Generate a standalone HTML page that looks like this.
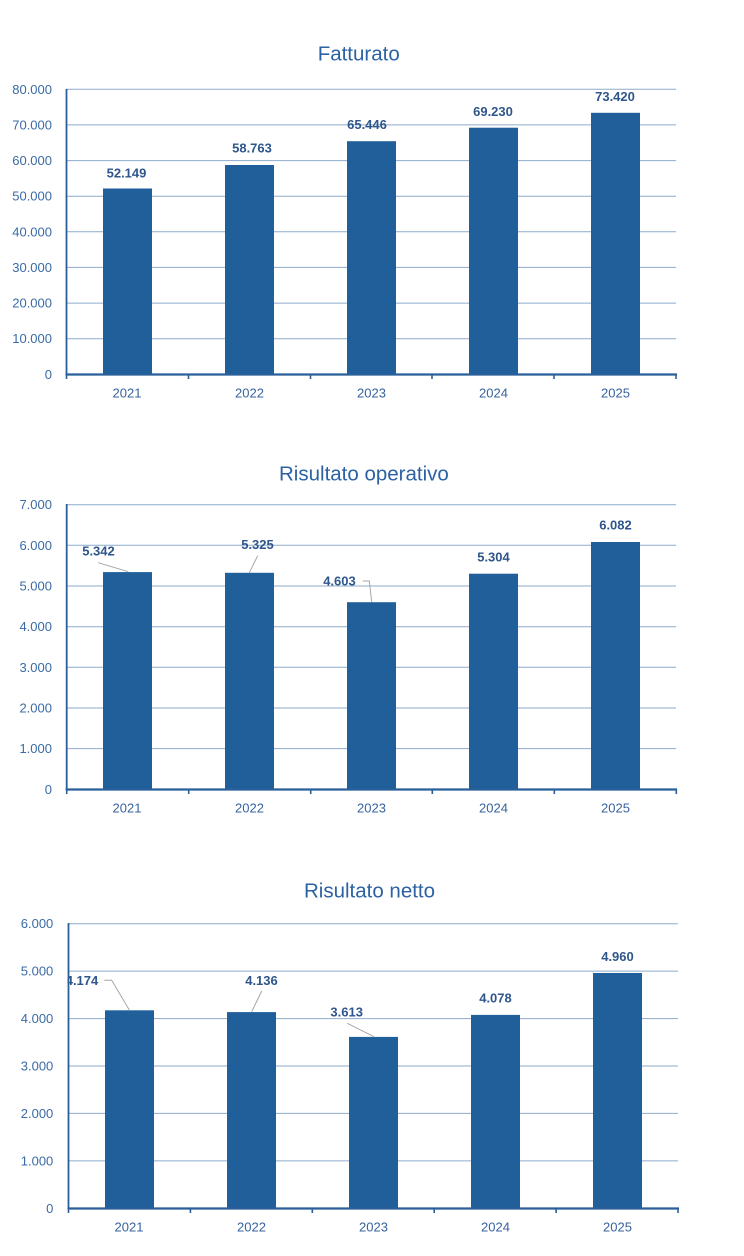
<!DOCTYPE html>
<html>
<head>
<meta charset="utf-8">
<style>
html,body{margin:0;padding:0;background:#fff;}
svg{display:block;}
text{font-family:"Liberation Sans",Arial,sans-serif;}
.t{font-size:20.5px;fill:#2C62A3;}
.yl{font-size:13px;fill:#3A6BA6;text-anchor:end;}
.xl{font-size:13px;fill:#37639E;text-anchor:middle;}
.dl{font-size:13px;font-weight:bold;fill:#2F568C;text-anchor:middle;}
.g{stroke:#8EABCB;stroke-width:1;}
.ax{stroke:#2A5F9A;}
.b{fill:#215F9A;}
.ld{stroke:#A6A6A6;stroke-width:1;fill:none;}
</style>
</head>
<body>
<svg width="744" height="1256" viewBox="0 0 744 1256" xmlns="http://www.w3.org/2000/svg">
<defs>
<clipPath id="c3"><rect x="67.5" y="900" width="680" height="340"/></clipPath>
</defs>

<!-- ===== Chart 1: Fatturato ===== -->
<text class="t" x="317.7" y="60.7">Fatturato</text>
<g>
<line class="g" x1="66" y1="338.7" x2="676" y2="338.7"/>
<line class="g" x1="66" y1="303.1" x2="676" y2="303.1"/>
<line class="g" x1="66" y1="267.4" x2="676" y2="267.4"/>
<line class="g" x1="66" y1="231.8" x2="676" y2="231.8"/>
<line class="g" x1="66" y1="196.2" x2="676" y2="196.2"/>
<line class="g" x1="66" y1="160.6" x2="676" y2="160.6"/>
<line class="g" x1="66" y1="124.9" x2="676" y2="124.9"/>
<line class="g" x1="66" y1="89.3" x2="676" y2="89.3"/>
</g>
<text class="yl" x="52" y="379">0</text>
<text class="yl" x="52" y="343.2">10.000</text>
<text class="yl" x="52" y="307.6">20.000</text>
<text class="yl" x="52" y="271.9">30.000</text>
<text class="yl" x="52" y="236.3">40.000</text>
<text class="yl" x="52" y="200.7">50.000</text>
<text class="yl" x="52" y="165.1">60.000</text>
<text class="yl" x="52" y="129.4">70.000</text>
<text class="yl" x="52" y="93.8">80.000</text>
<rect class="b" x="103" y="188.5" width="49" height="185.8"/>
<rect class="b" x="225" y="165.0" width="49" height="209.3"/>
<rect class="b" x="347" y="141.2" width="49" height="233.1"/>
<rect class="b" x="469" y="127.7" width="49" height="246.6"/>
<rect class="b" x="591" y="112.8" width="49" height="261.5"/>
<line class="ax" x1="66.5" y1="89" x2="66.5" y2="375" stroke-width="1.8"/>
<line class="ax" x1="65.5" y1="374.5" x2="677" y2="374.5" stroke-width="2.2"/>
<g class="ax" stroke-width="1.6">
<line x1="66.5" y1="374" x2="66.5" y2="379"/>
<line x1="188.5" y1="374" x2="188.5" y2="379"/>
<line x1="310.5" y1="374" x2="310.5" y2="379"/>
<line x1="432" y1="374" x2="432" y2="379"/>
<line x1="554" y1="374" x2="554" y2="379"/>
<line x1="676" y1="374" x2="676" y2="379"/>
</g>
<text class="xl" x="127" y="397.7">2021</text>
<text class="xl" x="249.5" y="397.7">2022</text>
<text class="xl" x="371.5" y="397.7">2023</text>
<text class="xl" x="493.5" y="397.7">2024</text>
<text class="xl" x="615.5" y="397.7">2025</text>
<text class="dl" x="126.5" y="177.7">52.149</text>
<text class="dl" x="252" y="152.7">58.763</text>
<text class="dl" x="367" y="129">65.446</text>
<text class="dl" x="493" y="116">69.230</text>
<text class="dl" x="615" y="101">73.420</text>

<!-- ===== Chart 2: Risultato operativo ===== -->
<text class="t" x="279" y="480.7">Risultato operativo</text>
<g>
<line class="g" x1="66" y1="748.6" x2="676" y2="748.6"/>
<line class="g" x1="66" y1="708.0" x2="676" y2="708.0"/>
<line class="g" x1="66" y1="667.3" x2="676" y2="667.3"/>
<line class="g" x1="66" y1="626.7" x2="676" y2="626.7"/>
<line class="g" x1="66" y1="586.0" x2="676" y2="586.0"/>
<line class="g" x1="66" y1="545.3" x2="676" y2="545.3"/>
<line class="g" x1="66" y1="504.7" x2="676" y2="504.7"/>
</g>
<text class="yl" x="52" y="793.8">0</text>
<text class="yl" x="52" y="753.1">1.000</text>
<text class="yl" x="52" y="712.5">2.000</text>
<text class="yl" x="52" y="671.8">3.000</text>
<text class="yl" x="52" y="631.2">4.000</text>
<text class="yl" x="52" y="590.5">5.000</text>
<text class="yl" x="52" y="549.8">6.000</text>
<text class="yl" x="52" y="509.2">7.000</text>
<rect class="b" x="103" y="572.1" width="49" height="217.2"/>
<rect class="b" x="225" y="572.8" width="49" height="216.5"/>
<rect class="b" x="347" y="602.2" width="49" height="187.1"/>
<rect class="b" x="469" y="573.7" width="49" height="215.6"/>
<rect class="b" x="591" y="542.0" width="49" height="247.3"/>
<line class="ax" x1="66.7" y1="504" x2="66.7" y2="790" stroke-width="1.8"/>
<line class="ax" x1="65.7" y1="789.5" x2="677" y2="789.5" stroke-width="2.2"/>
<g class="ax" stroke-width="1.6">
<line x1="66.7" y1="789" x2="66.7" y2="794"/>
<line x1="188.7" y1="789" x2="188.7" y2="794"/>
<line x1="310.7" y1="789" x2="310.7" y2="794"/>
<line x1="432.3" y1="789" x2="432.3" y2="794"/>
<line x1="554.3" y1="789" x2="554.3" y2="794"/>
<line x1="676.3" y1="789" x2="676.3" y2="794"/>
</g>
<text class="xl" x="127" y="812.7">2021</text>
<text class="xl" x="249.5" y="812.7">2022</text>
<text class="xl" x="371.5" y="812.7">2023</text>
<text class="xl" x="493.5" y="812.7">2024</text>
<text class="xl" x="615.5" y="812.7">2025</text>
<polyline class="ld" points="98.3,562.7 128.3,571.7"/>
<polyline class="ld" points="257.7,555.7 249.3,572.7"/>
<polyline class="ld" points="362.7,581 369.3,581 371.7,602"/>
<text class="dl" x="98.5" y="555.7">5.342</text>
<text class="dl" x="257.5" y="549">5.325</text>
<text class="dl" x="339.5" y="585.7">4.603</text>
<text class="dl" x="493.5" y="561.5">5.304</text>
<text class="dl" x="615.5" y="529.5">6.082</text>

<!-- ===== Chart 3: Risultato netto ===== -->
<text class="t" x="369.5" y="897.3" text-anchor="middle">Risultato netto</text>
<g>
<line class="g" x1="68" y1="1160.9" x2="678" y2="1160.9"/>
<line class="g" x1="68" y1="1113.4" x2="678" y2="1113.4"/>
<line class="g" x1="68" y1="1066.0" x2="678" y2="1066.0"/>
<line class="g" x1="68" y1="1018.6" x2="678" y2="1018.6"/>
<line class="g" x1="68" y1="971.1" x2="678" y2="971.1"/>
<line class="g" x1="68" y1="923.7" x2="678" y2="923.7"/>
</g>
<text class="yl" x="53.3" y="1212.8">0</text>
<text class="yl" x="53.3" y="1165.4">1.000</text>
<text class="yl" x="53.3" y="1117.9">2.000</text>
<text class="yl" x="53.3" y="1070.5">3.000</text>
<text class="yl" x="53.3" y="1023.1">4.000</text>
<text class="yl" x="53.3" y="975.6">5.000</text>
<text class="yl" x="53.3" y="928.2">6.000</text>
<rect class="b" x="105" y="1010.3" width="49" height="198"/>
<rect class="b" x="227" y="1012.1" width="49" height="196.2"/>
<rect class="b" x="349" y="1036.9" width="49" height="171.4"/>
<rect class="b" x="471" y="1014.9" width="49" height="193.4"/>
<rect class="b" x="593" y="973.0" width="49" height="235.3"/>
<polyline class="ld" points="104.3,980.3 111.7,980.3 129.3,1010"/>
<polyline class="ld" points="261.7,991 251.7,1011.7"/>
<polyline class="ld" points="347.3,1023.3 374,1036.7"/>
<g clip-path="url(#c3)">
<text class="dl" x="82" y="985">4.174</text>
</g>
<text class="dl" x="261.5" y="985">4.136</text>
<text class="dl" x="346.7" y="1016.7">3.613</text>
<text class="dl" x="495.5" y="1002.7">4.078</text>
<text class="dl" x="617.5" y="961">4.960</text>
<line class="ax" x1="68.5" y1="923" x2="68.5" y2="1209" stroke-width="1.8"/>
<line class="ax" x1="67.5" y1="1208.5" x2="679" y2="1208.5" stroke-width="2.2"/>
<g class="ax" stroke-width="1.6">
<line x1="68.5" y1="1208" x2="68.5" y2="1213"/>
<line x1="190.4" y1="1208" x2="190.4" y2="1213"/>
<line x1="312.3" y1="1208" x2="312.3" y2="1213"/>
<line x1="434.2" y1="1208" x2="434.2" y2="1213"/>
<line x1="556.1" y1="1208" x2="556.1" y2="1213"/>
<line x1="678" y1="1208" x2="678" y2="1213"/>
</g>
<text class="xl" x="129" y="1231.7">2021</text>
<text class="xl" x="251.5" y="1231.7">2022</text>
<text class="xl" x="373.5" y="1231.7">2023</text>
<text class="xl" x="495.5" y="1231.7">2024</text>
<text class="xl" x="617.5" y="1231.7">2025</text>
</svg>
</body>
</html>
